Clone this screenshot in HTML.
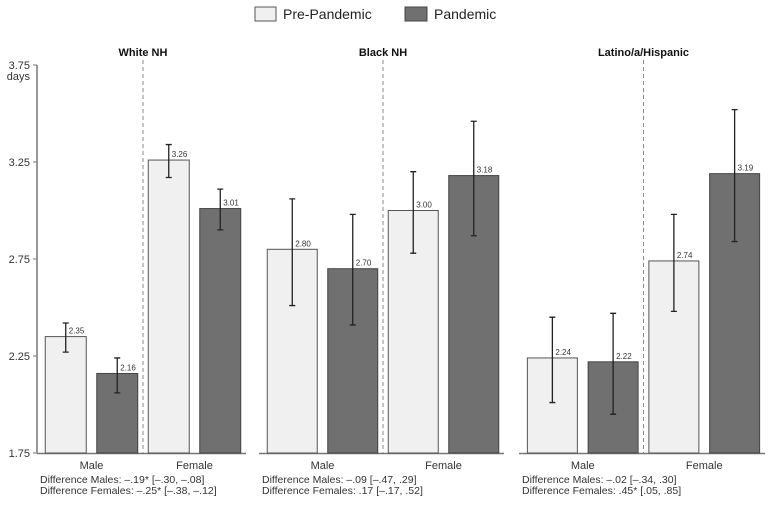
<!DOCTYPE html>
<html><head><meta charset="utf-8"><style>
body{margin:0;background:#fff;font-family:"Liberation Sans",sans-serif}
</style></head><body>
<svg id="c" width="773" height="507" style="display:block">
<g>
<rect x="255" y="7" width="21" height="14" fill="#f0f0f0" stroke="#555"/>
<text x="283" y="19" font-size="14" fill="#222">Pre-Pandemic</text>
<rect x="405" y="7" width="22" height="14" fill="#707070" stroke="#444"/>
<text x="434" y="19" font-size="14" fill="#222">Pandemic</text>
</g>
<g id="plot"></g>
</svg>
<script>
const groups=["White NH","Black NH","Latino/a/Hispanic"];
const preVals=[[2.35,3.26],[2.80,3.00],[2.24,2.74]];
const panVals=[[2.16,3.01],[2.70,3.18],[2.22,3.19]];
const preLo=[[2.27,3.17],[2.51,2.78],[2.01,2.48]];
const preHi=[[2.42,3.34],[3.06,3.20],[2.45,2.98]];
const panLo=[[2.06,2.90],[2.41,2.87],[1.95,2.84]];
const panHi=[[2.24,3.11],[2.98,3.46],[2.47,3.52]];
const yTicks=[1.75,2.25,2.75,3.25,3.75];
const diffM=["Difference Males: \u2013.19* [\u2013.30, \u2013.08]","Difference Males: \u2013.09   [\u2013.47, .29]","Difference Males: \u2013.02   [\u2013.34, .30]"];
const diffF=["Difference Females: \u2013.25* [\u2013.38, \u2013.12]","Difference Females: .17   [\u2013.17, .52]","Difference Females: .45* [.05, .85]"];
const NS="http://www.w3.org/2000/svg";
const g=document.getElementById('plot');
function y(v){return 453-(v-1.75)*194;}
function mk(t,a,p){const e=document.createElementNS(NS,t);for(const k in a)e.setAttribute(k,a[k]);(p||g).appendChild(e);return e;}
const px=[[40,246],[262,504],[522,765]];
const bw=[41,50,50];
// y axis
let ax=mk('line',{x1:37,x2:37,y1:y(3.75),y2:453,stroke:'#777','stroke-width':1.5});

yTicks.forEach(t=>{
 let l=mk('line',{x1:33,x2:37,y1:y(t),y2:y(t),stroke:'#777'});
 
 let tx=mk('text',{x:30,y:y(t)+4,'text-anchor':'end','font-size':11,fill:'#333'});tx.textContent=t.toFixed(2);
 
});
let yl=mk('text',{x:30,y:y(3.75)+15,'text-anchor':'end','font-size':11,fill:'#333'});yl.textContent='days';

groups.forEach((gn,i)=>{
 const [x0,x1]=px[i];const sw=(x1-x0)/4;const mid=(x0+x1)/2;
 let base=mk('line',{x1:x0-3,x2:x1,y1:453.5,y2:453.5,stroke:'#777','stroke-width':1.5});
 
 let dv=mk('line',{x1:mid,x2:mid,y1:y(3.75)-5,y2:453,stroke:'#888','stroke-dasharray':'4,3'});
 
 let tt=mk('text',{x:mid,y:56,'text-anchor':'middle','font-size':11,'font-weight':'bold',fill:'#111'});tt.textContent=gn;
 
 ['Male','Female'].forEach((s,j)=>{
  let c=mk('text',{x:x0+sw*(2*j+1),y:469,'text-anchor':'middle','font-size':11,fill:'#333'});c.textContent=s;
  
  [[preVals,preLo,preHi,'#f0f0f0','#555'],[panVals,panLo,panHi,'#707070','#444']].forEach((S,k)=>{
   const v=S[0][i][j],cx=x0+sw*(2*j+k+0.5);
   let r=mk('rect',{x:cx-bw[i]/2,y:y(v),width:bw[i],height:453-y(v),fill:S[3],stroke:S[4]});
   
   const lo=y(S[1][i][j]),hi=y(S[2][i][j]);
   let e=mk('path',{d:`M${cx} ${lo}V${hi}M${cx-3} ${lo}H${cx+3}M${cx-3} ${hi}H${cx+3}`,stroke:'#222','stroke-width':1.3,fill:'none'});
   
   let vl=mk('text',{x:cx+3,y:y(v)-3,'font-size':8,fill:'#333'});vl.textContent=v.toFixed(2);
   
  });
 });
 let d1=mk('text',{x:x0,y:483,'font-size':10.5,fill:'#333','xml:space':'preserve'});d1.textContent=diffM[i];
 
 let d2=mk('text',{x:x0,y:494,'font-size':10.5,fill:'#333','xml:space':'preserve'});d2.textContent=diffF[i];
 
});
</script>
</body></html>
